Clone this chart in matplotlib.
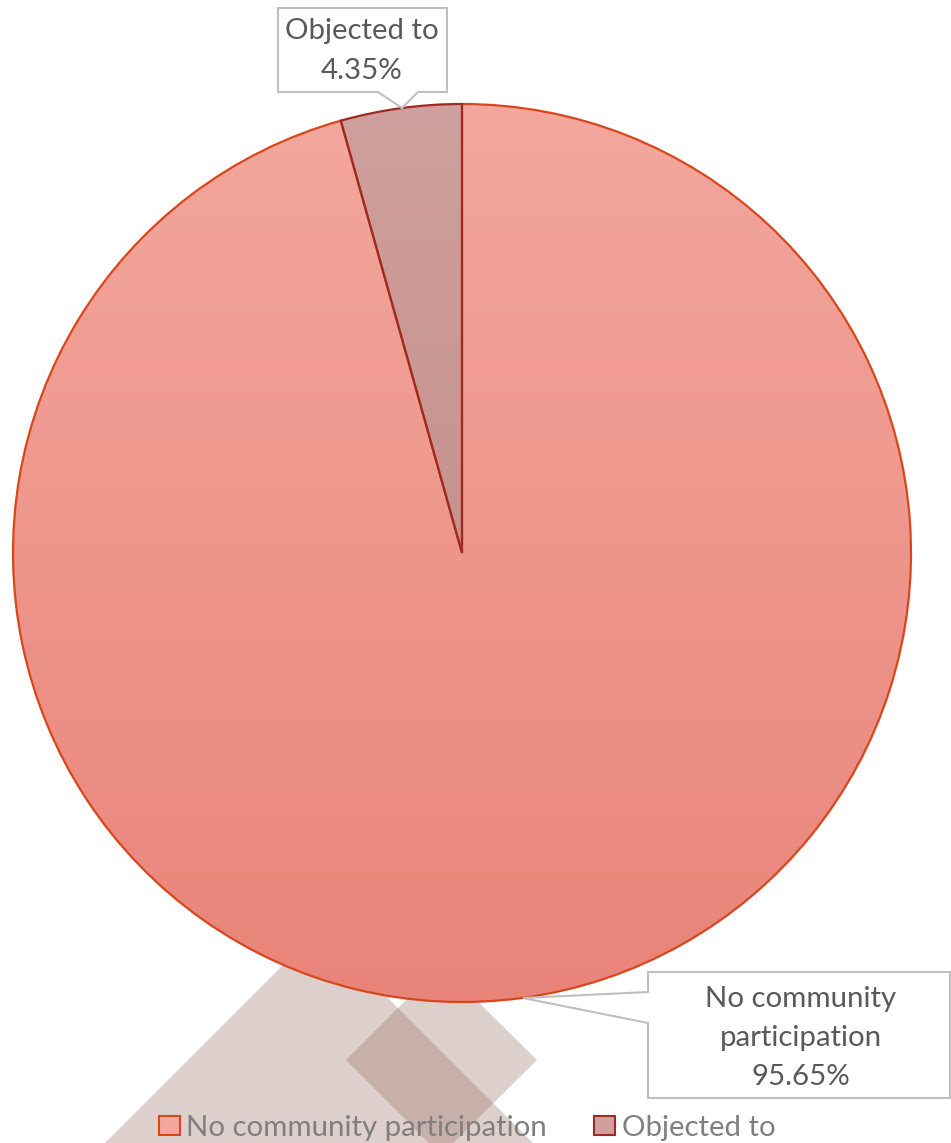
import numpy as np
import matplotlib
matplotlib.use('Agg')
import matplotlib.pyplot as plt
from matplotlib.patches import Polygon, Patch
from matplotlib.colors import LinearSegmentedColormap

plt.rcParams['font.family'] = ['Lato', 'DejaVu Sans']

categories = ['No community participation', 'Objected to']
shares = [95.65, 4.35]
pct_labels = ['95.65%', '4.35%']
box_labels = ['No community\nparticipation\n95.65%', 'Objected to\n4.35%']

top_colors = ['#F3A79D', '#CFA09D']
bottom_colors = ['#E9847A', '#BE847F']
edge_colors = ['#D9461C', '#9E2A20']

W, H = 951, 1143


def Y(y):
    # picture rows are counted from the top
    return H - y


fig = plt.figure(figsize=(W / 100, H / 100), dpi=100)
ax = fig.add_axes([0, 0, 1, 1])

# faint shapes behind the chart
shape_col = (145 / 255, 102 / 255, 88 / 255, 0.3)
big = [(319, 929), (19, 1229), (319, 1529), (619, 1229)]
small = [(441, 965), (346, 1060), (441, 1155), (537, 1060)]
for pts in (big, small):
    ax.add_patch(Polygon([(x, Y(y)) for x, y in pts], closed=True,
                         facecolor=shape_col, edgecolor='none', zorder=0))

cx, cy, r = 462, Y(553), 449
wedges, _ = ax.pie(shares, startangle=90, counterclock=False,
                   center=(cx, cy), radius=r, frame=True,
                   wedgeprops=dict(linewidth=1.6))

grad = np.linspace(0, 1, 256).reshape(-1, 1)
for w, c0, c1, ec in zip(wedges, top_colors, bottom_colors, edge_colors):
    w.set_facecolor('none')
    w.set_edgecolor(ec)
    w.set_zorder(3)
    cmap = LinearSegmentedColormap.from_list('g', [c0, c1])
    im = ax.imshow(grad, cmap=cmap, aspect='auto', origin='upper',
                   extent=(cx - r, cx + r, cy - r, cy + r), zorder=2,
                   interpolation='bilinear')
    im.set_clip_path(w)

# callout boxes
box_col = '#BFBFBF'
obj_box = [(278, 8), (447, 8), (447, 92), (418, 92), (402, 108), (378, 92), (278, 92)]
ncp_box = [(648, 972), (950, 972), (950, 1098), (648, 1098), (648, 1023), (523, 998), (648, 992)]
for pts in (ncp_box, obj_box):
    ax.add_patch(Polygon([(x, Y(y)) for x, y in pts], closed=True,
                         facecolor='white', edgecolor=box_col, linewidth=1.5, zorder=4))

ax.text(801, Y(1038), box_labels[0], ha='center', va='center', fontsize=21.2,
        color='#595959', linespacing=1.62, zorder=5)
ax.text(362, Y(51), box_labels[1], ha='center', va='center', fontsize=21.2,
        color='#595959', linespacing=1.62, zorder=5)

handles = [Patch(facecolor=c0, edgecolor=ec, linewidth=1.5)
           for c0, ec in zip(top_colors, edge_colors)]
leg = ax.legend(handles, categories, loc='center', bbox_to_anchor=(467 / W, Y(1128) / H),
                ncol=2, frameon=False, fontsize=21.2, handlelength=0.72, handleheight=0.6,
                handletextpad=0.22, columnspacing=1.6, labelcolor='#7F7F7F',
                borderpad=0, borderaxespad=0)

ax.set_xlim(0, W)
ax.set_ylim(0, H)
ax.set_aspect('auto')
ax.axis('off')

fig.savefig('out.png', dpi=100)
